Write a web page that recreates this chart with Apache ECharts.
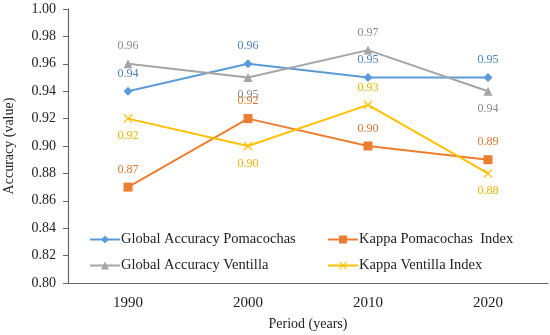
<!DOCTYPE html>
<html><head><meta charset="utf-8">
<script src="https://cdn.jsdelivr.net/npm/echarts@6/dist/echarts.min.js"></script>
<style>html,body{margin:0;padding:0;background:#fff}#c{width:550px;height:335px}</style>
</head><body><div id="c"></div>
<script>
const categories = ['1990', '2000', '2010', '2020'];
const gaPomacochas = [0.94, 0.96, 0.95, 0.95];
const kappaPomacochas = [0.87, 0.92, 0.90, 0.89];
const gaVentilla = [0.96, 0.95, 0.97, 0.94];
const kappaVentilla = [0.92, 0.90, 0.93, 0.88];
const gaVentillaLabelPos = ['top', 'bottom', 'top', 'bottom'];
const kappaVentillaLabelPos = ['bottom', 'bottom', 'top', 'bottom'];

const FONT = '"Liberation Serif", "Times New Roman", serif';
const xSym = 'path://M0,1L1,0L5,4L9,0L10,1L6,5L10,9L9,10L5,6L1,10L0,9L4,5Z';

function mk(name, data, color, labelColor, symbol, size, positions) {
  return {
    name, type: 'line', data: data.map((v, i) => ({
      value: v,
      label: { position: positions ? positions[i] : 'top' }
    })),
    symbol, symbolSize: size,
    lineStyle: { color, width: 2 },
    itemStyle: { color },
    label: {
      show: true, color: labelColor, fontFamily: FONT, fontSize: 12, distance: 7,
      formatter: p => p.value.toFixed(2)
    },
    emphasis: { disabled: true },
    animation: false
  };
}

const chart = echarts.init(document.getElementById('c'));
chart.setOption({
  backgroundColor: '#fff',
  grid: { left: 68, right: 2, top: 9, bottom: 52, containLabel: false, outerBoundsMode: 'none' },
  xAxis: {
    type: 'category', data: categories, boundaryGap: true,
    name: 'Period (years)', nameLocation: 'middle', nameGap: 34,
    nameTextStyle: { fontFamily: FONT, fontSize: 14, color: '#222' },
    axisLine: { lineStyle: { color: '#666', width: 1.2 } },
    axisTick: { alignWithLabel: true, length: 5, lineStyle: { color: '#666' } },
    axisLabel: { fontFamily: FONT, fontSize: 15, color: '#222', margin: 13 }
  },
  yAxis: {
    type: 'value', min: 0.80, max: 1.00, interval: 0.02,
    name: 'Accuracy (value)', nameLocation: 'middle', nameGap: 52,
    nameTextStyle: { fontFamily: FONT, fontSize: 14, color: '#222' },
    axisLine: { show: true, lineStyle: { color: '#666', width: 1.2 } },
    axisTick: { show: true, length: 5, lineStyle: { color: '#666' } },
    splitLine: { show: false },
    axisLabel: { fontFamily: FONT, fontSize: 14, color: '#222', margin: 12, formatter: v => v.toFixed(2) }
  },
  legend: [
    {
      data: ['Global Accuracy Pomacochas', 'Global Accuracy Ventilla'],
      orient: 'vertical', left: 84, top: 227, itemGap: 11, itemWidth: 30, itemHeight: 10,
      textStyle: { fontFamily: FONT, fontSize: 14.5, color: '#222', padding: [0, 0, 0, -4] }
    },
    {
      data: ['Kappa Pomacochas  Index', 'Kappa Ventilla Index'],
      orient: 'vertical', left: 322, top: 227, itemGap: 11, itemWidth: 30, itemHeight: 10,
      textStyle: { fontFamily: FONT, fontSize: 14.5, color: '#222', padding: [0, 0, 0, -4] }
    }
  ],
  series: [
    mk('Global Accuracy Pomacochas', gaPomacochas, '#5B9BD5', '#4a80b8', 'diamond', 9, null),
    mk('Kappa Pomacochas  Index', kappaPomacochas, '#ED7D31', '#d97530', 'rect', 9, null),
    mk('Global Accuracy Ventilla', gaVentilla, '#A5A5A5', '#8a8a8a', 'triangle', 9, gaVentillaLabelPos),
    mk('Kappa Ventilla Index', kappaVentilla, '#FFC000', '#e8b400', xSym, 9, kappaVentillaLabelPos)
  ]
});
</script></body></html>
